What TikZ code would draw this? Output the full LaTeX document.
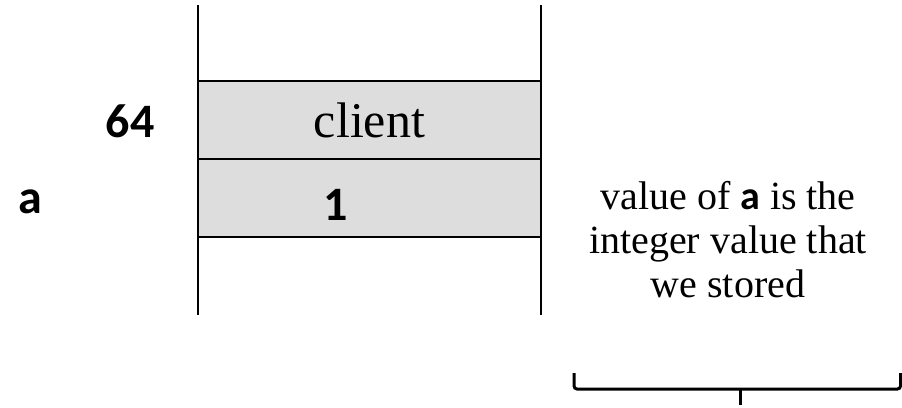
\documentclass[tikz,border=0pt]{standalone}
\usepackage{fontspec}
\setmainfont{Liberation Serif}
\newfontfamily\calib{Carlito}
\definecolor{cellgray}{RGB}{221,221,221}
\tikzset{
  cell/.style={draw=black, line width=2pt, fill=cellgray, minimum width=343pt, minimum height=78pt, inner sep=0pt, outer sep=0pt},
  wall/.style={line width=2pt},
  bigsans/.style={font=\calib\bfseries\fontsize{48}{52}\selectfont, inner sep=0pt, anchor=base},
  serifbig/.style={font=\fontsize{50}{54}\selectfont, inner sep=0pt, anchor=base},
  note/.style={font=\fontsize{40}{44}\selectfont, inner sep=0pt, align=center},
  bracket/.style={line width=3pt, rounded corners=3pt}
}
\begin{document}
\begin{tikzpicture}[x=1pt,y=-1pt]
\useasboundingbox (0,0) rectangle (902,407);
% stack walls
\coordinate (ltop) at (198,5);
\coordinate (lbot) at (198,315);
\coordinate (rtop) at (541,5);
\coordinate (rbot) at (541,315);
\node[cell] (cellA) at (369.5,120) {};
\node[cell] (cellB) at (369.5,198) {};
\draw[wall] (ltop) -- (lbot);
\draw[wall] (rtop) -- (rbot);
% texts
\node[serifbig] (client) at (369.5,137) {client};
\node[bigsans] (one) at (336,220) {1};
\node[bigsans] (addr) at (130,137) {64};
\node[bigsans] (avar) at (30,213) {a};
\node[note, anchor=base] (desc) at (728,297) {value of {\calib\bfseries a} is the\\integer value that\\we stored};
% bracket
\coordinate (bl) at (574,373);
\coordinate (br) at (900.5,373);
\coordinate (bmid) at (740,389);
\coordinate (btip) at (740,405);
\draw[bracket] (bl) -- (574,389) -- (900.5,389) -- (br);
\draw[line width=3pt] (bmid) -- (btip);
\end{tikzpicture}
\end{document}
